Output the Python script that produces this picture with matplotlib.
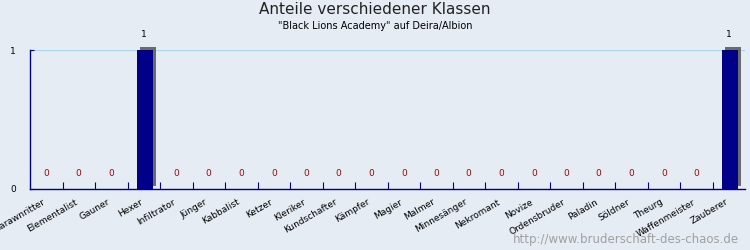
import numpy as np
import matplotlib
matplotlib.use("Agg")
import matplotlib.pyplot as plt
from matplotlib.transforms import ScaledTranslation

# Data
klassen = ["Barawnritter", "Elementalist", "Gauner", "Hexer", "Infiltrator",
           "Jünger", "Kabbalist", "Ketzer", "Kleriker", "Kundschafter",
           "Kämpfer", "Magier", "Malmer", "Minnesänger", "Nekromant",
           "Novize", "Ordensbruder", "Paladin", "Söldner", "Theurg",
           "Waffenmeister", "Zauberer"]
anzahl = [0, 0, 0, 1, 0, 0, 0, 0, 0, 0, 0, 0, 0, 0, 0, 0, 0, 0, 0, 0, 0, 1]
y_ticks = [0, 1]

bg = "#e6ecf3"
fig = plt.figure(figsize=(7.5, 2.5), dpi=100, facecolor=bg)
ax = fig.add_axes([30 / 750, 1 - 189 / 250, 715 / 750, 139 / 250])
ax.set_facecolor(bg)

x = np.arange(len(klassen)) + 0.5
# shadow
shadow = ax.bar(x + 0.03, anzahl, width=0.5, color="#6b6b6b", zorder=2)
for s in shadow:
    s.set_transform(ax.transData + ScaledTranslation(3 / 100, 3 / 100, fig.dpi_scale_trans))
    s.set_clip_on(False)
ax.bar(x + 0.03, anzahl, width=0.5, color="#000088", zorder=3)

for xi, v in zip(x, anzahl):
    col = "black" if v > 0 else "#aa0000"
    ax.annotate(str(v), (xi, v), xytext=(0, 8), textcoords="offset points",
                ha="center", va="bottom", fontsize=6.5, color=col)

ax.set_xlim(0, len(klassen))
ax.set_ylim(0, 1)
ax.axhline(1, color="#a8d8e8", lw=0.9, zorder=1)

ax.set_yticks(y_ticks)
ax.set_yticklabels([str(t) for t in y_ticks], fontsize=6.5)
ax.tick_params(axis="y", direction="in", length=3, color="#000088", pad=10)

ax.set_xticks(np.arange(1, len(klassen)))
ax.set_xticklabels([])
ax.set_xticks(x, minor=True)
ax.set_xticklabels(klassen, minor=True, rotation=30, ha="right",
                   rotation_mode="anchor", fontsize=6.5)
ax.tick_params(axis="x", which="major", direction="in", length=5, color="#000088")
ax.tick_params(axis="x", which="minor", length=0, pad=6)
for lbl in ax.get_xticklabels(minor=True):
    lbl.set_transform(lbl.get_transform() + ScaledTranslation(-4 / 100, 0, fig.dpi_scale_trans))

for side in ["top", "right"]:
    ax.spines[side].set_visible(False)
for side in ["left", "bottom"]:
    ax.spines[side].set_color("#000088")
    ax.spines[side].set_linewidth(1)

fig.text(0.5, 0.96, "Anteile verschiedener Klassen", ha="center", va="center",
         fontsize=11, color="#222222")
fig.text(0.5, 0.895, '"Black Lions Academy" auf Deira/Albion', ha="center",
         va="center", fontsize=7, color="black")
fig.text(0.985, 0.04, "http://www.bruderschaft-des-chaos.de", ha="right",
         va="center", fontsize=8.5, color="#a0a0a0")

fig.savefig("out.png", dpi=100, facecolor=bg)
